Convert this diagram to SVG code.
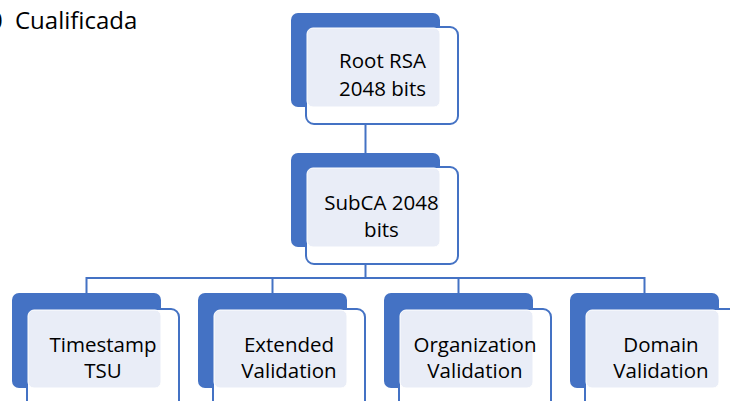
<svg xmlns="http://www.w3.org/2000/svg" width="730" height="401" viewBox="0 0 730 401">
<style>
.bk{fill:#4472C4}
.ol{fill:#FFFFFF;stroke:#4472C4;stroke-width:2}
.lt{fill:#E9EDF7;stroke:#FFFFFF;stroke-width:1}
.t{font-family:"Open Sans","Liberation Sans",sans-serif;font-size:20.5px;fill:#000;text-anchor:middle}
.cn{fill:none;stroke:#4472C4;stroke-width:2}
</style>
<rect width="730" height="401" fill="#FFFFFF"/>
<text x="-11" y="29" font-family="Open Sans, Liberation Sans, sans-serif" font-size="24" fill="#000">0<tspan x="15">Cualificada</tspan></text>
<g id="connectors">
<line class="cn" x1="365.5" y1="110" x2="365.5" y2="153"/>
<line class="cn" x1="365.5" y1="250" x2="365.5" y2="278"/>
<polyline class="cn" points="86.5,293 86.5,278 644.5,278 644.5,293"/>
<line class="cn" x1="272.5" y1="278" x2="272.5" y2="293"/>
<line class="cn" x1="458.5" y1="278" x2="458.5" y2="293"/>
</g>
<g id="root">
<rect class="bk" x="291" y="13" width="149" height="94" rx="7"/>
<rect class="ol" x="306" y="27" width="152" height="97" rx="8"/>
<rect class="lt" x="307" y="28" width="133" height="79" rx="6"/>
<text class="t" x="382.5" y="68">Root RSA</text>
<text class="t" x="382.5" y="96">2048 bits</text>
</g>
<g id="subca">
<rect class="bk" x="291" y="153" width="149" height="94" rx="7"/>
<rect class="ol" x="306" y="167" width="152" height="97" rx="8"/>
<rect class="lt" x="307" y="168" width="133" height="79" rx="6"/>
<text class="t" x="381.5" y="210">SubCA 2048</text>
<text class="t" x="381.5" y="237">bits</text>
</g>
<g id="timestamp">
<rect class="bk" x="12" y="293" width="149" height="95" rx="7"/>
<rect class="ol" x="27" y="309" width="152" height="100" rx="8"/>
<rect class="lt" x="28" y="310" width="133" height="78" rx="6"/>
<text class="t" x="103" y="352">Timestamp</text>
<text class="t" x="103" y="378">TSU</text>
</g>
<g id="extended">
<rect class="bk" x="198" y="293" width="149" height="95" rx="7"/>
<rect class="ol" x="213" y="309" width="152" height="100" rx="8"/>
<rect class="lt" x="214" y="310" width="133" height="78" rx="6"/>
<text class="t" x="289" y="352">Extended</text>
<text class="t" x="289" y="378">Validation</text>
</g>
<g id="organization">
<rect class="bk" x="384" y="293" width="149" height="95" rx="7"/>
<rect class="ol" x="399" y="309" width="152" height="100" rx="8"/>
<rect class="lt" x="400" y="310" width="133" height="78" rx="6"/>
<text class="t" x="475" y="352">Organization</text>
<text class="t" x="475" y="378">Validation</text>
</g>
<g id="domain">
<rect class="bk" x="570" y="293" width="149" height="95" rx="7"/>
<rect class="ol" x="585" y="309" width="152" height="100" rx="8"/>
<rect class="lt" x="586" y="310" width="133" height="78" rx="6"/>
<text class="t" x="661" y="352">Domain</text>
<text class="t" x="661" y="378">Validation</text>
</g>
</svg>
